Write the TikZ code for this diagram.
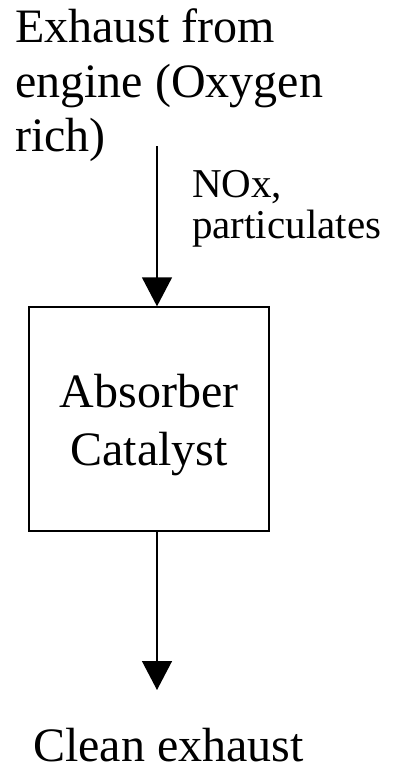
\documentclass[tikz,border=0pt]{standalone}
\usepackage{fontspec}
\setmainfont{Liberation Serif}
\usetikzlibrary{arrows.meta}
\begin{document}
\begin{tikzpicture}[x=1pt,y=-1pt,
  big/.style={font=\fontsize{48}{56}\selectfont, inner sep=0pt, anchor=base west},
  small/.style={font=\fontsize{41}{41}\selectfont, inner sep=0pt, anchor=base west},
  flow/.style={line width=1.3pt, -{Triangle[length=29pt,width=30pt]}},
  procbox/.style={draw, line width=1.3pt, minimum width=240pt, minimum height=224pt, inner sep=0pt}]
\useasboundingbox (0,0) rectangle (396,768);
\node[big] (t1) at (15,43) {Exhaust from};
\node[big] (t2) at (15,97) {engine (Oxygen};
\node[big] (t3) at (15,151) {rich)};
\node[small] (n1) at (192,197) {NOx,};
\node[small] (n2) at (192,238) {particulates};
\node[procbox] (abs) at (149,419) {};
\node[big, anchor=base] (a1) at (149,407) {Absorber};
\node[big, anchor=base] (a2) at (149,465) {Catalyst};
\node[big, text depth=0pt] (out) at (33,761) {Clean exhaust};
\coordinate (s1) at (157,146);
\coordinate (e1) at (157,690);
\draw[flow] (s1) -- (s1 |- abs.north);
\draw[flow] (abs.south -| e1) -- (e1);
\end{tikzpicture}
\end{document}
